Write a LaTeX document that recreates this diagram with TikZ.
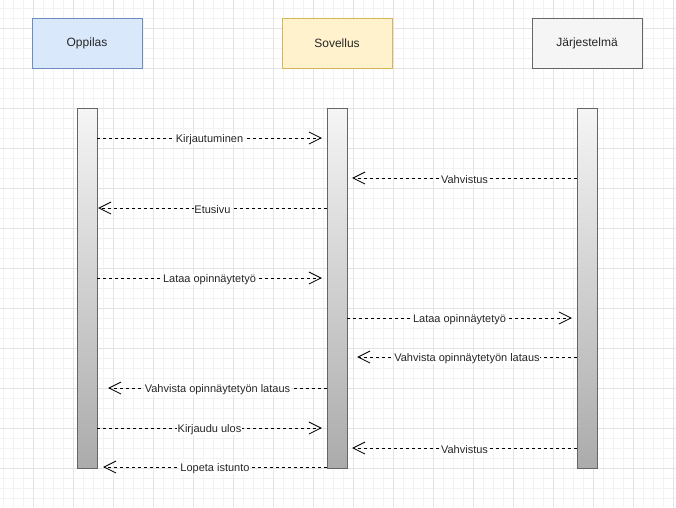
\documentclass[tikz,border=0pt]{standalone}
\usepackage{fontspec}
\setmainfont{Liberation Sans}
\usetikzlibrary{arrows.meta}
\definecolor{oppfill}{HTML}{DAE8FC}
\definecolor{oppline}{HTML}{6C8EBF}
\definecolor{sovfill}{HTML}{FFF2CC}
\definecolor{sovline}{HTML}{D6B656}
\definecolor{jarfill}{HTML}{F5F5F5}
\definecolor{jarline}{HTML}{666666}
\definecolor{bartop}{HTML}{F5F5F5}
\definecolor{barbottom}{HTML}{ABABAB}
\definecolor{gridminor}{HTML}{F2F2F2}
\definecolor{gridmajor}{HTML}{E3E3E3}

\begin{document}
\begin{tikzpicture}[x=1pt,y=-1pt,
    actor/.style={draw,minimum width=110pt,minimum height=50pt,inner sep=0pt,
      font=\fontsize{12}{14}\selectfont,text=black!85},
    lifebar/.style={draw=jarline,minimum width=20pt,minimum height=360pt,inner sep=0pt,
      top color=bartop,bottom color=barbottom},
    msg/.style={line width=0.8pt,dash pattern=on 3pt off 3pt,
      -{Straight Barb[length=12pt,width=12pt,line width=0.8pt]}},
    lbl/.style={midway,fill=white,inner sep=0.5pt,yshift=-1.5pt,text=black!85,
      font=\fontsize{11}{13}\selectfont}]
  \useasboundingbox[fill=white] (0,0) rectangle (676,507);

  % grid
  \foreach \x in {3,13,...,673} \draw[gridminor] (\x,0) -- (\x,507);
  \foreach \y in {8,18,...,498} \draw[gridminor] (0,\y) -- (676,\y);
  \foreach \x in {33,73,...,673} \draw[gridmajor] (\x,0) -- (\x,507);
  \foreach \y in {28,68,...,508} \draw[gridmajor] (0,\y) -- (676,\y);

  % actors
  \node[actor,fill=oppfill,draw=oppline] (oppilas) at (87,43) {Oppilas};
  \node[actor,fill=sovfill,draw=sovline] (sovellus) at (337,43) {Sovellus};
  \node[actor,fill=jarfill,draw=jarline] (jarjestelma) at (587,43) {Järjestelmä};

  % lifelines
  \node[lifebar] (oppilasbar) at (87,288) {};
  \node[lifebar] (sovellusbar) at (337,288) {};
  \node[lifebar] (jarjestelmabar) at (587,288) {};

  % messages
  \foreach \y/\a/\b/\g/\t in {
      138/oppilasbar.east/sovellusbar.west/-5/Kirjautuminen,
      178/jarjestelmabar.west/sovellusbar.east/5/Vahvistus,
      208/sovellusbar.west/oppilasbar.east/1/Etusivu,
      278/oppilasbar.east/sovellusbar.west/-5/Lataa opinnäytetyö,
      318/sovellusbar.east/jarjestelmabar.west/-5/Lataa opinnäytetyö,
      357/jarjestelmabar.west/sovellusbar.east/10/Vahvista opinnäytetyön lataus,
      388/sovellusbar.west/oppilasbar.east/11/Vahvista opinnäytetyön lataus,
      428/oppilasbar.east/sovellusbar.west/-5/Kirjaudu ulos,
      448/jarjestelmabar.west/sovellusbar.east/5/Vahvistus,
      467/sovellusbar.west/oppilasbar.east/6/Lopeta istunto}{
    \coordinate (rivi) at (0,\y);
    \draw[msg] (\a |- rivi) -- ([xshift=\g pt]\b |- rivi) node[lbl] {\t};
  }
\end{tikzpicture}
\end{document}
